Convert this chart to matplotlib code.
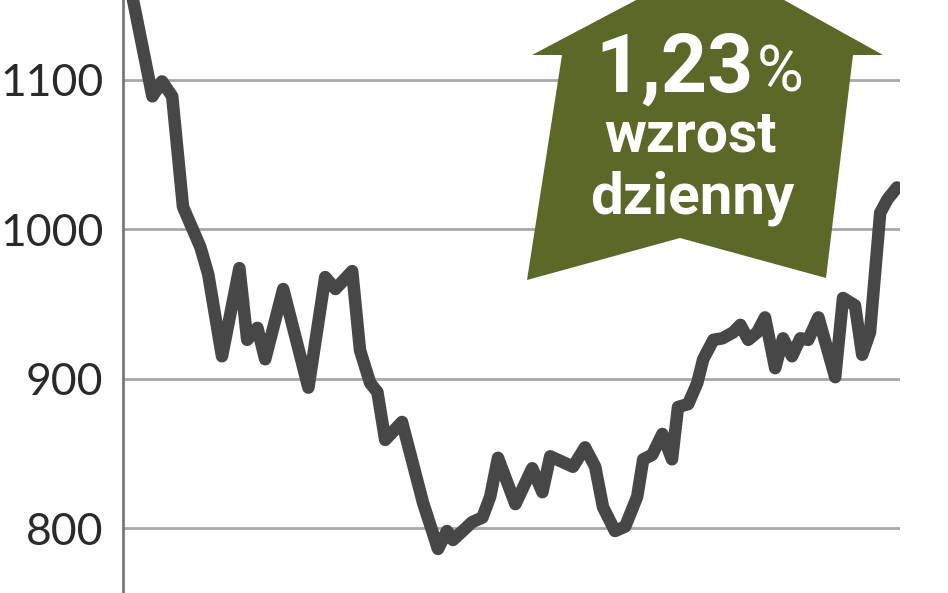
#!/usr/bin/python3
"""Daily index chart with a green 'growth' arrow badge."""

import matplotlib

matplotlib.use("Agg")
import matplotlib.pyplot as plt
from matplotlib.patches import Polygon

# session number (approximate) and index level
days = [
    0, 3.7, 5.3, 7, 8.8, 11.7, 13, 15.3, 18.2, 19.5, 21.2, 22.5, 25.5, 29.7,
    32.5, 34.2, 37, 38.3, 40, 41.2, 42.5, 45.3, 48.8, 51.3, 52.8, 53.8, 57,
    58.7, 60, 61.3, 64.2, 67, 68.7, 70, 73.8, 75.8, 77.5, 78.8, 80.8, 82.5,
    84.5, 85.5, 87, 88.7, 90.3, 91.3, 93, 94.5, 95.5, 97.2, 98.7, 100.5,
    101.7, 103, 104.5, 105.8, 107.5, 108.8, 110.3, 111.7, 113, 114.7, 117.5,
    118.8, 120.8, 122, 123.3, 125, 126.2, 127.8,
]
values = [
    1163, 1089, 1099, 1089, 1015, 988, 970, 915, 974, 926, 934, 913, 960, 894,
    968, 960, 972, 919, 897, 891, 859, 871, 817, 786, 798, 792, 804,
    807, 821, 847, 816, 840, 824, 848, 841, 854, 841, 814, 798, 801,
    821, 846, 849, 863, 846, 881, 883, 897, 913, 926, 927, 931,
    936, 926, 931, 941, 907, 927, 915, 927, 926, 941, 901,
    954, 949, 916, 931, 1011, 1020, 1028,
]
y_ticks = [800, 900, 1000, 1100]
badge_lines = ["1,23", "%", "wzrost", "dzienny"]

LINE_COLOR = "#474747"
GRID_COLOR = "#a8a8a8"
BADGE_COLOR = "#5b6828"

W, H = 948, 593


def px(x, y):
    """Pixel position (from top-left) to figure fraction."""
    return (x / W, 1 - y / H)


def main():
    fig = plt.figure(figsize=(W / 100, H / 100), dpi=100)
    ax = fig.add_axes([123 / W, 0, (900 - 123) / W, 1])

    ax.set_xlim(-1.2, 128.3)
    ax.set_ylim(756.5, 1153.5)
    ax.set_yticks(y_ticks)
    ax.set_yticklabels([str(t) for t in y_ticks])
    ax.set_xticks([])
    ax.grid(axis="y", color=GRID_COLOR, linewidth=2)
    ax.set_axisbelow(True)
    for side in ("top", "right", "bottom"):
        ax.spines[side].set_visible(False)
    ax.spines["left"].set_color("#777777")
    ax.spines["left"].set_linewidth(2)
    ax.tick_params(axis="y", length=0, pad=14, labelsize=32, labelcolor="#2a2a2a")
    for lab in ax.get_yticklabels():
        lab.set_family(["Lato", "DejaVu Sans"])
        lab.set_fontweight("normal")

    ax.plot(days, values, color=LINE_COLOR, linewidth=9,
            solid_joinstyle="round", solid_capstyle="round", zorder=3)

    # arrow badge
    shape = [
        (527, 280), (562, 55), (532, 55), (712, -40), (883, 55), (853, 55),
        (826, 278), (680, 238),
    ]
    fig.patches.append(Polygon([px(x, y) for x, y in shape], closed=True,
                               transform=fig.transFigure, facecolor=BADGE_COLOR,
                               edgecolor="none", zorder=5))

    fam = ["Roboto", "DejaVu Sans"]
    fig.text(*px(754, 92), badge_lines[0], ha="right", va="baseline", color="white",
             fontsize=58, fontweight="bold", family=fam, zorder=6)
    fig.text(*px(757, 92), badge_lines[1], ha="left", va="baseline", color="white",
             fontsize=46, fontweight="normal", family=fam, zorder=6)
    fig.text(*px(690, 152), badge_lines[2], ha="center", va="baseline", color="white",
             fontsize=41, fontweight="bold", family=fam, zorder=6)
    fig.text(*px(692, 213), badge_lines[3], ha="center", va="baseline", color="white",
             fontsize=42, fontweight="bold", family=fam, zorder=6)

    fig.savefig("out.png", dpi=100, facecolor="white")


if __name__ == "__main__":
    main()
